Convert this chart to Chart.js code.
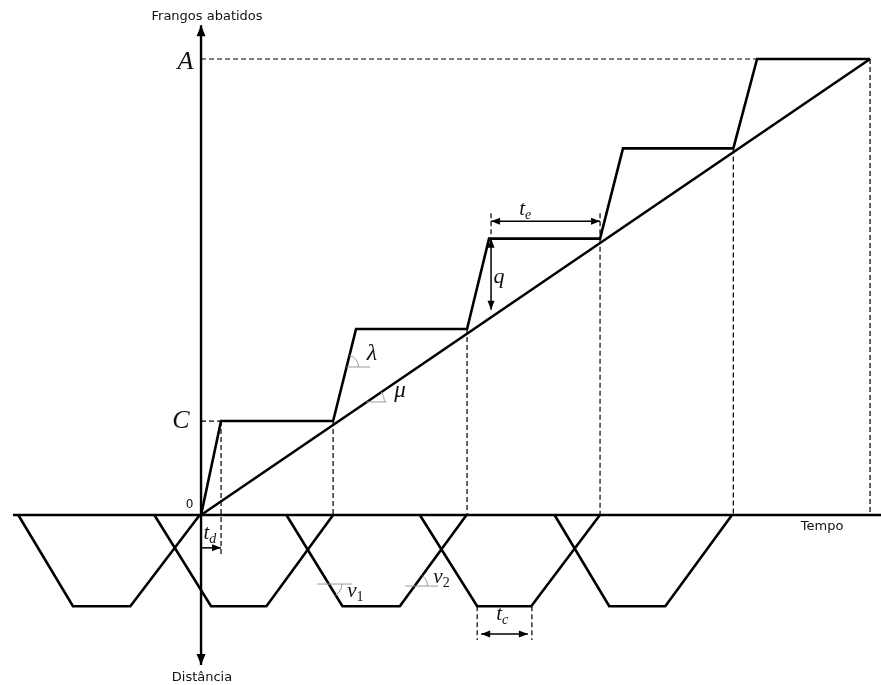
<!DOCTYPE html>
<html>
<head>
<meta charset="utf-8">
<script src="https://cdn.jsdelivr.net/npm/chart.js@4.4.1/dist/chart.umd.min.js"></script>
<style>
  html, body { margin: 0; padding: 0; background: #ffffff; }
  canvas { display: block; }
</style>
</head>
<body>
<canvas id="chart" width="881" height="685"></canvas>
<script>
// ---- Slaughter side (above the time axis) ----
// Corners of the accumulated-broilers staircase: time and count
const stairTimes  = [0, 1.5, 9.9, 11.62, 19.94, 21.59, 29.91, 31.63, 39.9, 41.68, 50.15];
const stairCounts = [0, 10.3, 10.3, 20.4, 20.4, 30.3, 30.3, 40.2, 40.2, 50, 50];
// Slaughter line running at a constant rate
const rateTimes  = [0, 50.15];
const rateCounts = [0, 50];
// Reference levels marked on the vertical axis
const levelC = 10.3;
const levelA = 50;

// ---- Transport side (below the time axis) ----
// Each trip: leave plant, reach farm, leave farm, back at plant
const tripTimes = [
  [-13.7, -9.6, -5.3, -0.1],
  [-3.5, 0.75, 4.9, 9.9],
  [6.4, 10.6, 14.9, 19.9],
  [16.4, 20.7, 24.75, 29.9],
  [26.5, 30.6, 34.8, 39.8]
];
const tripDistance = [0, -10, -10, 0];

// Axis extents
const timeAxis = [-14.1, 51];
const countAxis = [-16.45, 53.7];

// Dimension marks
const tdSpan = [0, 1.5];        // t_d
const teSpan = [21.74, 29.91];  // t_e
const qSpan  = [30.3, 22.5];    // q
const tcSpan = [20.7, 24.8];    // t_c

const X_MIN = -15.07, X_MAX = 50.97;
const Y_MIN = -18.64, Y_MAX = 56.47;

const pts = (xs, ys) => xs.map((x, i) => ({ x, y: ys[i] }));
const seg = (x1, y1, x2, y2) => [{ x: x1, y: y1 }, { x: x2, y: y2 }];

const solid = { borderColor: '#000', borderWidth: 2.6 };
const dashed = { borderColor: '#000', borderWidth: 1.2, borderDash: [5, 3] };
const dim = { borderColor: '#000', borderWidth: 1.5 };

const datasets = [];
function add(data, style, extra) {
  datasets.push(Object.assign({
    data, showLine: true, pointRadius: 0, fill: false, tension: 0,
    borderCapStyle: 'butt', borderJoinStyle: 'miter'
  }, style, extra || {}));
}

// axes
add(seg(timeAxis[0], 0, timeAxis[1], 0), { borderColor: '#000', borderWidth: 2.4 });
add(seg(0, countAxis[0], 0, countAxis[1]), { borderColor: '#000', borderWidth: 2.4 },
    { arrows: 'both', arrowLen: 11, arrowWid: 9 });

// staircase and slaughter line
add(pts(stairTimes, stairCounts), solid);
add(pts(rateTimes, rateCounts), solid);

// trips
tripTimes.forEach(t => add(pts(t, tripDistance), solid));

// dashed guides
add(seg(0, levelA, stairTimes[9], levelA), dashed);
add(seg(0, levelC, stairTimes[1], levelC), dashed);
add(seg(stairTimes[1], levelC, stairTimes[1], -4.4), dashed);
[2, 4, 6, 8, 10].forEach(i => add(seg(stairTimes[i], stairCounts[i], stairTimes[i], 0), dashed));
add(seg(teSpan[0], 33.1, teSpan[0], stairCounts[5]), dashed);
add(seg(teSpan[1], 33.1, teSpan[1], stairCounts[6]), dashed);
add(seg(tcSpan[0], -10, tcSpan[0], -13.7), dashed);
add(seg(tcSpan[1], -10, tcSpan[1], -13.7), dashed);

// dimension arrows
add(seg(tdSpan[0], -3.6, tdSpan[1], -3.6), dim, { arrows: 'end', arrowLen: 9, arrowWid: 7 });
add(seg(teSpan[0], 32.2, teSpan[1], 32.2), dim, { arrows: 'both', arrowLen: 9, arrowWid: 7 });
add(seg(teSpan[0], qSpan[0], teSpan[0], qSpan[1]), dim, { arrows: 'both', arrowLen: 9, arrowWid: 7 });
add(seg(tcSpan[0] + 0.3, -13.05, tcSpan[1] - 0.3, -13.05), dim, { arrows: 'both', arrowLen: 9, arrowWid: 7 });

// angle markers: vertex, a point along the slanted line, horizontal reference from/to, radius (px)
const angleMarks = [
  { c: [10.91, 16.23], along: [11.62, 20.4], h: [10.91, 12.67], r: 12 },
  { c: [12.4, 12.4], along: [50, 50], h: [12.4, 13.9], r: 18 },
  { c: [9.58, -7.57], along: [10.6, -10], h: [8.7, 11.3], r: 13 },
  { c: [16.0, -7.79], along: [19.9, 0], h: [15.3, 17.77], r: 13 }
];

const SANS = '13px "DejaVu Sans", sans-serif';
const MATH = (s) => 'italic ' + s + 'px "Liberation Serif", "DejaVu Serif", serif';
const labels = [
  { t: 0.45, y: 54.6, text: 'Frangos abatidos', font: SANS },
  { t: 0.07, y: -17.87, text: 'Distância', font: SANS },
  { t: 46.55, y: -1.32, text: 'Tempo', font: SANS },
  { t: -0.86, y: 1.1, text: '0', font: '12px "DejaVu Sans", sans-serif' },
  { t: -1.16, y: 49.67, text: 'A', font: MATH(26) },
  { t: -1.5, y: 10.25, text: 'C', font: MATH(26) },
  { t: 12.82, y: 17.65, text: 'λ', font: MATH(24) },
  { t: 14.92, y: 13.6, text: 'μ', font: MATH(23) },
  { t: 22.34, y: 26.1, text: 'q', font: MATH(22) },
  { t: 24.07, y: 33.55, text: 't', sub: 'e', font: MATH(21) },
  { t: 0.4, y: -2.0, text: 't', sub: 'd', font: MATH(21) },
  { t: 22.34, y: -10.86, text: 't', sub: 'c', font: MATH(21) },
  { t: 11.3, y: -8.4, text: 'ν', sub: '1', font: MATH(21) },
  { t: 17.76, y: -6.8, text: 'ν', sub: '2', font: MATH(21) }
];

function arrowHead(ctx, x1, y1, x2, y2, len, wid) {
  const a = Math.atan2(y2 - y1, x2 - x1);
  ctx.save();
  ctx.translate(x2, y2);
  ctx.rotate(a);
  ctx.beginPath();
  ctx.moveTo(0, 0);
  ctx.lineTo(-len, wid / 2);
  ctx.lineTo(-len, -wid / 2);
  ctx.closePath();
  ctx.fillStyle = '#000';
  ctx.fill();
  ctx.restore();
}

const decorations = {
  id: 'decorations',
  afterDatasetsDraw(chart) {
    const ctx = chart.ctx;
    const xs = chart.scales.x, ys = chart.scales.y;
    const px = (t) => xs.getPixelForValue(t);
    const py = (v) => ys.getPixelForValue(v);

    // arrowheads
    chart.data.datasets.forEach(ds => {
      if (!ds.arrows) return;
      const d = ds.data, n = d.length;
      const ax = px(d[n - 1].x), ay = py(d[n - 1].y);
      const bx = px(d[n - 2].x), by = py(d[n - 2].y);
      arrowHead(ctx, bx, by, ax, ay, ds.arrowLen, ds.arrowWid);
      if (ds.arrows === 'both') {
        arrowHead(ctx, px(d[1].x), py(d[1].y), px(d[0].x), py(d[0].y), ds.arrowLen, ds.arrowWid);
      }
    });

    // angle markers
    ctx.save();
    ctx.strokeStyle = '#9a9a9a';
    ctx.lineWidth = 1;
    angleMarks.forEach(m => {
      const cx = px(m.c[0]), cy = py(m.c[1]);
      const yh = py(m.c[1]);
      ctx.beginPath();
      ctx.moveTo(px(m.h[0]), yh);
      ctx.lineTo(px(m.h[1]), yh);
      ctx.stroke();
      const ang = Math.atan2(py(m.along[1]) - cy, px(m.along[0]) - cx);
      ctx.beginPath();
      if (ang < 0) ctx.arc(cx, cy, m.r, ang, 0, false);
      else ctx.arc(cx, cy, m.r, 0, ang, false);
      ctx.stroke();
    });
    ctx.restore();

    // text
    ctx.save();
    ctx.fillStyle = '#111';
    ctx.textBaseline = 'middle';
    labels.forEach(l => {
      const x = px(l.t), y = py(l.y);
      ctx.font = l.font;
      ctx.textAlign = 'center';
      ctx.fillText(l.text, x, y);
      if (l.sub) {
        const w = ctx.measureText(l.text).width;
        ctx.font = 'italic 14px "Liberation Serif", "DejaVu Serif", serif';
        if (/\d/.test(l.sub)) ctx.font = '14px "Liberation Serif", "DejaVu Serif", serif';
        ctx.textAlign = 'left';
        ctx.fillText(l.sub, x + w / 2, y + 6);
      }
    });
    ctx.restore();
  }
};

new Chart(document.getElementById('chart'), {
  type: 'scatter',
  data: { datasets },
  options: {
    responsive: false,
    animation: false,
    events: [],
    layout: { padding: 0 },
    plugins: { legend: { display: false }, tooltip: { enabled: false } },
    scales: {
      x: { type: 'linear', display: false, min: X_MIN, max: X_MAX },
      y: { type: 'linear', display: false, min: Y_MIN, max: Y_MAX }
    }
  },
  plugins: [decorations]
});
</script>
</body>
</html>
